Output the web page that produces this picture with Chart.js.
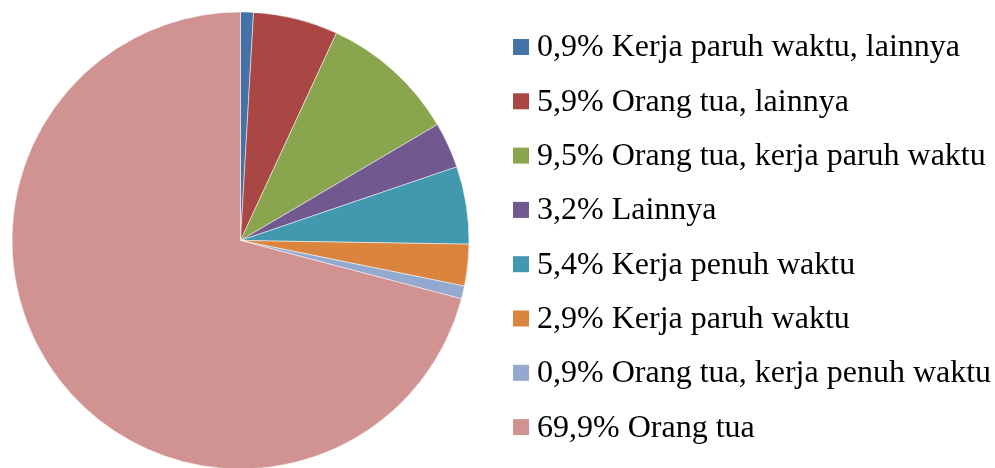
<!DOCTYPE html>
<html>
<head>
<meta charset="utf-8">
<script src="https://cdn.jsdelivr.net/npm/chart.js@4"></script>
<style>
  html, body { margin: 0; padding: 0; background: #fff; }
  #wrap { width: 995px; height: 468px; }
</style>
</head>
<body>
<div id="wrap"><canvas id="pie" width="995" height="468"></canvas></div>
<script>
// slices, clockwise from 12 o'clock
const categories = [
  "Kerja paruh waktu, lainnya",
  "Orang tua, lainnya",
  "Orang tua, kerja paruh waktu",
  "Lainnya",
  "Kerja penuh waktu",
  "Kerja paruh waktu",
  "Orang tua, kerja penuh waktu",
  "Orang tua"
];
const shares = [0.9, 5.9, 9.5, 3.2, 5.4, 2.9, 0.9, 69.9];
const colors = ["#4572A7", "#AA4643", "#89A54E", "#71588F", "#4198AF", "#DB843D", "#93A9CF", "#D19392"];

// "0,9% Kerja ..." - comma decimals like the source
const legendText = categories.map((c, i) => shares[i].toFixed(1).replace(".", ",") + "% " + c);

// built-in legend can't put the pie and the list where the source has them,
// so the list is drawn here from the chart's own labels/colours
const sideLegend = {
  id: "sideLegend",
  afterDraw(chart) {
    const ctx = chart.ctx;
    const ds = chart.data.datasets[0];
    const x0 = 513, y0 = 47, step = 54.3, box = 16;
    ctx.save();
    ctx.font = '32px "Liberation Serif"';
    ctx.textBaseline = "middle";
    ctx.textAlign = "left";
    chart.data.labels.forEach((t, i) => {
      const y = y0 + i * step;
      ctx.fillStyle = ds.backgroundColor[i];
      ctx.fillRect(x0, y - box / 2, box, box);
      ctx.fillStyle = "#000";
      ctx.fillText(t, x0 + 24, y + 1);
    });
    ctx.restore();
  }
};

function draw() {
  const ctx = document.getElementById("pie").getContext("2d");
  new Chart(ctx, {
    type: "pie",
    data: {
      labels: legendText,
      datasets: [{
        data: shares,
        backgroundColor: colors,
        borderColor: "#ffffff",
        borderWidth: 0.5,
        radius: 228.5
      }]
    },
    options: {
      responsive: false,
      animation: false,
      layout: { padding: { left: 0, right: 514, top: 13, bottom: 0 } },
      plugins: {
        tooltip: { enabled: false },
        legend: { display: false }
      }
    },
    plugins: [sideLegend]
  });
}

document.fonts.load('32px "Liberation Serif"').then(draw, draw);
</script>
</body>
</html>
